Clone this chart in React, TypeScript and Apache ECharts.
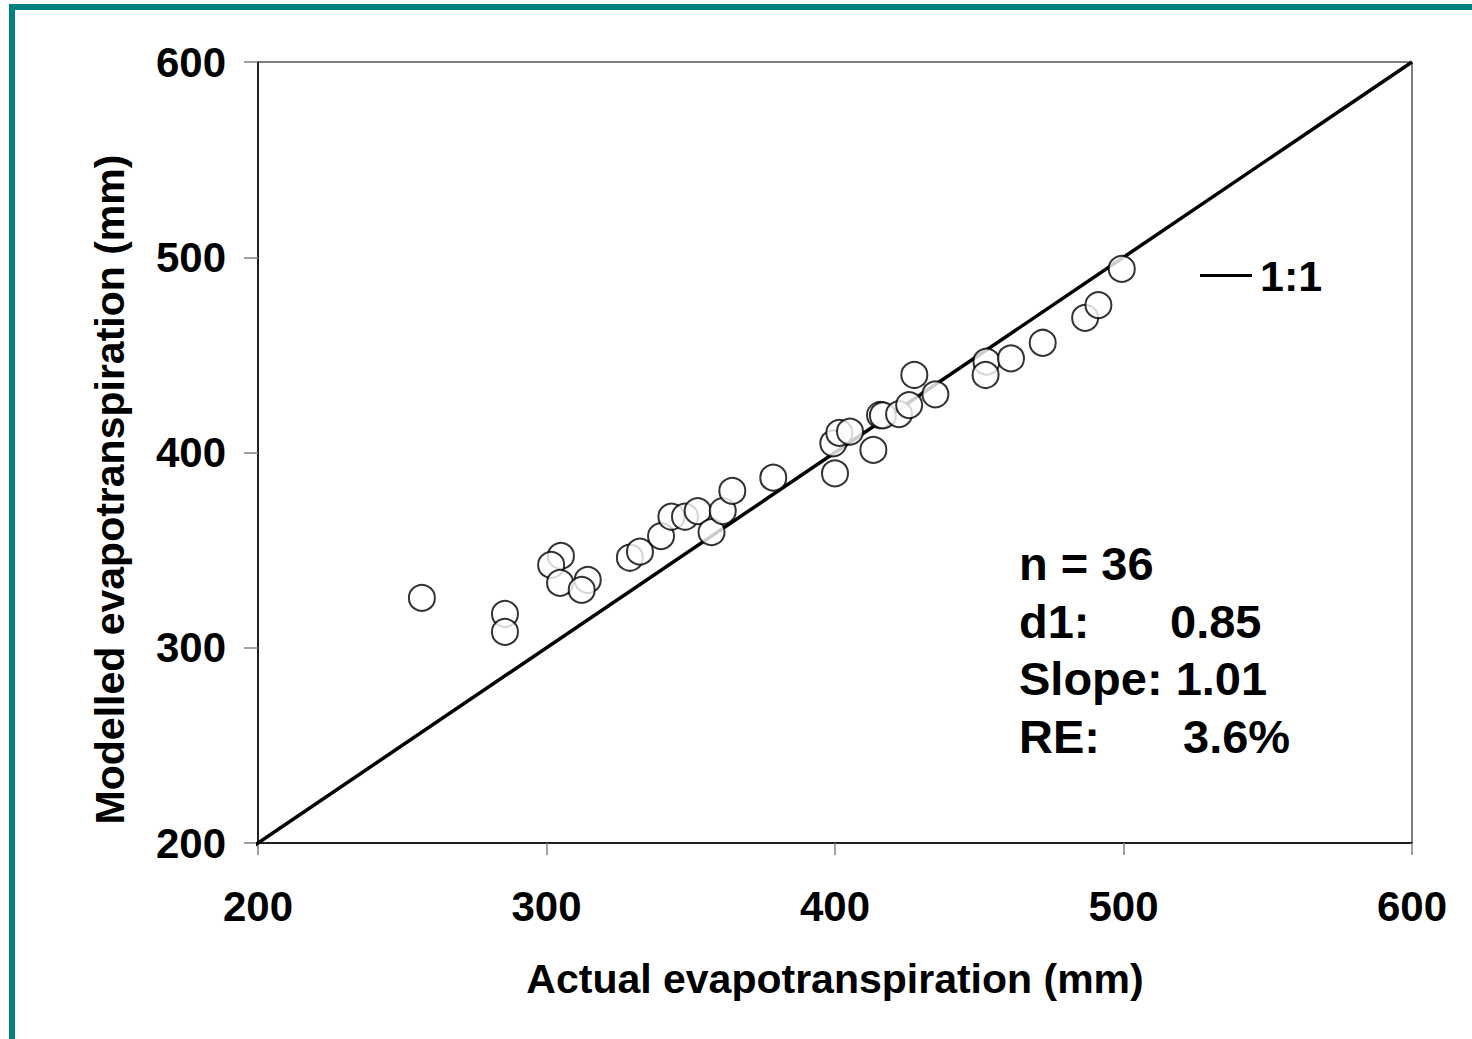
import React, { useEffect, useRef } from "react";
import * as echarts from "echarts";

const actualET = [
  256.8, 285.6, 285.6, 305.0, 301.6, 304.7, 314.3, 312.2, 328.9, 332.4, 339.7, 343.3,
  348.0, 352.4, 357.2, 361.1, 364.4, 378.6, 400.0, 399.4, 401.5, 405.2, 413.3, 415.6,
  416.6, 422.2, 425.7, 427.5, 434.8, 452.5, 452.2, 461.0, 472.0, 486.7, 491.3, 499.4,
];
const modelledET = [
  325.5, 317.3, 308.1, 347.0, 342.4, 333.2, 334.7, 329.6, 346.1, 349.2, 357.2, 367.1,
  367.1, 370.0, 359.2, 370.0, 380.3, 387.1, 389.3, 404.7, 410.0, 410.7, 401.3, 419.2,
  419.0, 419.7, 424.3, 439.7, 429.8, 446.5, 439.7, 448.2, 456.2, 469.0, 475.5, 494.0,
];
const oneToOne = [
  [195, 195],
  [600, 600],
];
const axisMin = 200;
const axisMax = 600;
const axisStep = 100;
const statsLabels = ["n = 36", "d1:", "Slope: 1.01", "RE:"];
const statsValues = ["", "0.85", "", "3.6%"];

const FONT = '"Liberation Sans", Arial, sans-serif';

export default function App() {
  const ref = useRef<HTMLDivElement>(null);
  useEffect(() => {
    if (!ref.current) return;
    const chart = echarts.init(ref.current, undefined, { renderer: "svg" });
    const points = actualET.map((x, i) => [x, modelledET[i]]);
    const statsTexts: any[] = [];
    const valueX = [0, 1170, 0, 1183];
    statsLabels.forEach((t, i) => {
      statsTexts.push({
        type: "text",
        left: 1019,
        top: 540 + i * 57.5,
        style: { text: t, font: `bold 47px ${FONT}`, fill: "#000" },
      });
      if (statsValues[i]) {
        statsTexts.push({
          type: "text",
          left: valueX[i],
          top: 540 + i * 57.5,
          style: { text: statsValues[i], font: `bold 47px ${FONT}`, fill: "#000" },
        });
      }
    });
    chart.setOption({
      animation: false,
      backgroundColor: "#fff",
      grid: {
        left: 258,
        right: 60,
        top: 62,
        bottom: 196,
        show: true,
        borderColor: "#000",
        borderWidth: 1,
      },
      legend: {
        data: ["1:1"],
        left: 1195,
        top: 249,
        itemWidth: 52,
        itemHeight: 3,
        icon: "rect",
        itemGap: 10,
        textStyle: { fontFamily: FONT, fontWeight: "bold", fontSize: 43, color: "#000", padding: [0, 0, 0, 3] },
      },
      xAxis: {
        type: "value",
        min: axisMin,
        max: axisMax,
        interval: axisStep,
        name: "Actual evapotranspiration (mm)",
        nameLocation: "middle",
        nameGap: 115,
        nameTextStyle: { fontFamily: FONT, fontWeight: "bold", fontSize: 41, color: "#000" },
        axisLine: { show: true, lineStyle: { color: "#000", width: 1.5 } },
        axisTick: { show: true, length: 12, lineStyle: { color: "#808080", width: 1.5 } },
        axisLabel: {
          margin: 42,
          fontFamily: FONT,
          fontWeight: "bold",
          fontSize: 42,
          color: "#000",
        },
        splitLine: { show: false },
      },
      yAxis: {
        type: "value",
        min: axisMin,
        max: axisMax,
        interval: axisStep,
        name: "Modelled evapotranspiration (mm)",
        nameLocation: "middle",
        nameGap: 128,
        nameTextStyle: {
          fontFamily: FONT,
          fontWeight: "bold",
          fontSize: 41,
          color: "#000",
          padding: [0, 74, 0, 0],
        },
        axisLine: { show: true, lineStyle: { color: "#000", width: 1.5 } },
        axisTick: { show: true, length: 14, lineStyle: { color: "#808080", width: 1.5 } },
        axisLabel: {
          margin: 32,
          fontFamily: FONT,
          fontWeight: "bold",
          fontSize: 42,
          color: "#000",
        },
        splitLine: { show: false },
      },
      series: [
        {
          name: "1:1",
          type: "line",
          data: oneToOne,
          showSymbol: false,
          symbol: "none",
          clip: false,
          lineStyle: { color: "#000", width: 3.5 },
          itemStyle: { color: "#000" },
          z: 2,
        },
        {
          name: "points",
          type: "scatter",
          data: points,
          symbol: "circle",
          symbolSize: 26,
          itemStyle: { color: "#fff", borderColor: "#000", borderWidth: 2 },
          z: 3,
        },
      ],
      graphic: [
        { type: "rect", shape: { x: 9, y: 4, width: 1463, height: 6 }, style: { fill: "#008080" }, z: 10 },
        { type: "rect", shape: { x: 9, y: 4, width: 6, height: 1035 }, style: { fill: "#008080" }, z: 10 },
        ...statsTexts,
      ],
    });
    return () => chart.dispose();
  }, []);
  return (
    <div
      ref={ref}
      style={{ position: "fixed", left: 0, top: 0, width: 1472, height: 1039, background: "#fff" }}
    />
  );
}
